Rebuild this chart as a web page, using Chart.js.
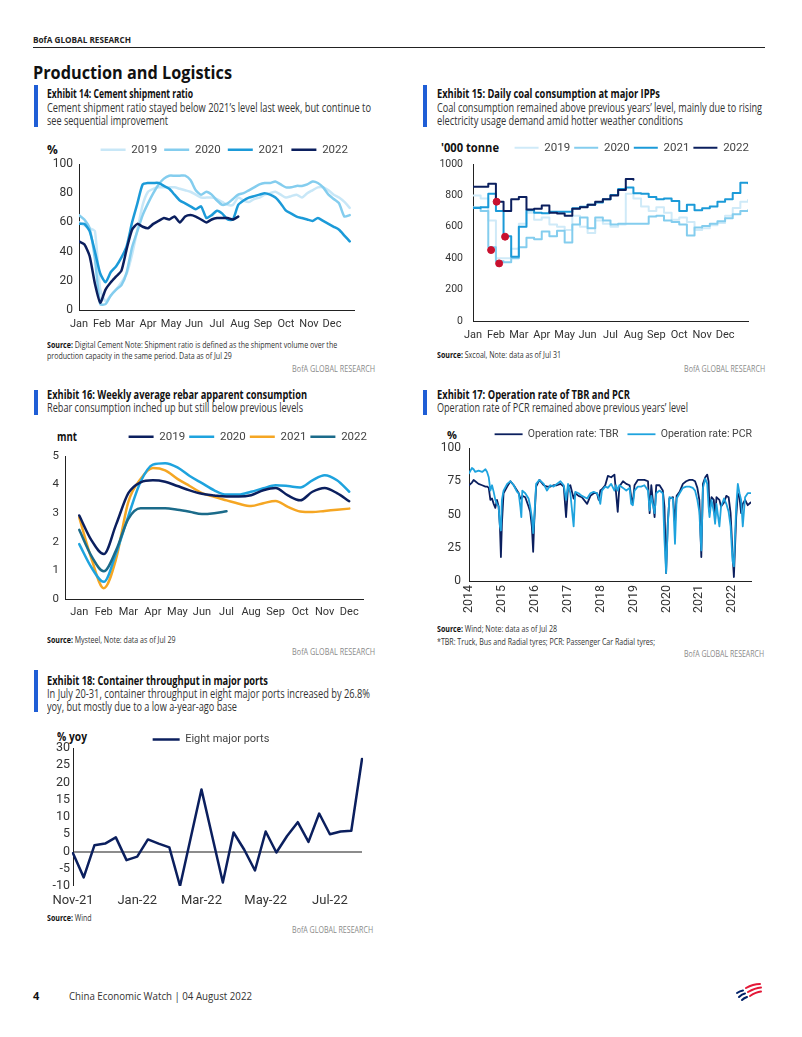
<!DOCTYPE html>
<html><head><meta charset="utf-8">
<script src="https://cdn.jsdelivr.net/npm/chart.js@4.4.1/dist/chart.umd.min.js"></script>
<style>
html,body{margin:0;padding:0;background:#fff}
body{width:802px;height:1037px;position:relative;overflow:hidden;font-family:"Open Sans","Noto Sans",sans-serif;color:#333}
.a{position:absolute;white-space:nowrap;line-height:14px}
.bar{position:absolute;width:4px;background:#1f5ed6}
.ti{font-weight:bold;font-size:12px;color:#111}
.su{font-size:12px;color:#333}
.so{font-size:9px;color:#333}
.so b{color:#111}
.br{font-size:9px;color:#8a8a8a}
.un{font-weight:bold;font-size:12px;color:#111}
.cv{position:absolute}
</style></head><body>

<div class="a" data-w="98" style="left:33px;top:33px;font-weight:bold;font-size:8px;color:#222">BofA GLOBAL RESEARCH</div>
<div style="position:absolute;left:33px;top:47px;width:732px;height:1px;background:#222"></div>
<div class="a" data-w="199" style="left:33px;top:62px;line-height:22px;font-weight:bold;font-size:17px;color:#111">Production and Logistics</div>

<!-- Exhibit 14 -->
<div class="bar" style="left:34px;top:85px;height:42px"></div>
<div class="a ti" data-w="146" style="left:47px;top:87px">Exhibit 14: Cement shipment ratio</div>
<div class="a su" data-w="324" style="left:47px;top:101px">Cement shipment ratio stayed below 2021’s level last week, but continue to</div>
<div class="a su" data-w="121" style="left:47px;top:114px">see sequential improvement</div>
<div class="a un" style="left:47px;top:143px">%</div>
<div class="cv" style="left:39px;top:137px;width:316px;height:197px"><canvas id="c14"></canvas></div>
<div class="a so" style="left:47px;top:338px"><b>Source:</b> Digital Cement Note: Shipment ratio is defined as the shipment volume over the</div>
<div class="a so" style="left:47px;top:349px">production capacity in the same period. Data as of Jul 29</div>
<div class="a br" data-w="83" data-r="1" style="right:427px;top:362px">BofA GLOBAL RESEARCH</div>

<!-- Exhibit 15 -->
<div class="bar" style="left:423px;top:85px;height:42px"></div>
<div class="a ti" data-w="223" style="left:437px;top:87px">Exhibit 15: Daily coal consumption at major IPPs</div>
<div class="a su" data-w="325" style="left:437px;top:101px">Coal consumption remained above previous years’ level, mainly due to rising</div>
<div class="a su" data-w="246" style="left:437px;top:114px">electricity usage demand amid hotter weather conditions</div>
<div class="a un" data-w="58" style="left:441px;top:141px">'000 tonne</div>
<div class="cv" style="left:433px;top:138px;width:320px;height:207px"><canvas id="c15"></canvas></div>
<div class="a so" style="left:437px;top:348px"><b>Source:</b> Sxcoal, Note: data as of Jul 31</div>
<div class="a br" data-w="81" data-r="1" style="right:37px;top:362px">BofA GLOBAL RESEARCH</div>

<!-- Exhibit 16 -->
<div class="bar" style="left:34px;top:390px;height:25px"></div>
<div class="a ti" data-w="260" style="left:47px;top:388px">Exhibit 16: Weekly average rebar apparent consumption</div>
<div class="a su" data-w="256" style="left:47px;top:401px">Rebar consumption inched up but still below previous levels</div>
<div class="a un" data-w="20" style="left:57px;top:430px">mnt</div>
<div class="cv" style="left:40px;top:427px;width:331px;height:196px"><canvas id="c16"></canvas></div>
<div class="a so" style="left:47px;top:633px"><b>Source:</b> Mysteel, Note: data as of Jul 29</div>
<div class="a br" data-w="83" data-r="1" style="right:427px;top:645px">BofA GLOBAL RESEARCH</div>

<!-- Exhibit 17 -->
<div class="bar" style="left:423px;top:390px;height:25px"></div>
<div class="a ti" data-w="193" style="left:437px;top:388px">Exhibit 17: Operation rate of TBR and PCR</div>
<div class="a su" data-w="251" style="left:437px;top:401px">Operation rate of PCR remained above previous years’ level</div>
<div class="a un" style="left:447px;top:428px;font-size:11px">%</div>
<div class="cv" style="left:433px;top:420px;width:328px;height:194px"><canvas id="c17"></canvas></div>
<div class="a so" style="left:437px;top:622px"><b>Source:</b> Wind; Note: data as of Jul 28</div>
<div class="a so" id="fn" style="left:437px;top:635px">*TBR: Truck, Bus and Radial tyres; PCR: Passenger Car Radial tyres;</div>
<div class="a br" data-w="80" data-r="1" style="right:38px;top:647px">BofA GLOBAL RESEARCH</div>

<!-- Exhibit 18 -->
<div class="bar" style="left:34px;top:670px;height:42px"></div>
<div class="a ti" data-w="221" style="left:47px;top:674px">Exhibit 18: Container throughput in major ports</div>
<div class="a su" data-w="323" style="left:47px;top:687px">In July 20-31, container throughput in eight major ports increased by 26.8%</div>
<div class="a su" data-w="190" style="left:47px;top:700px">yoy, but mostly due to a low a-year-ago base</div>
<div class="a un" data-w="30" style="left:57px;top:730px">% yoy</div>
<div class="cv" style="left:45px;top:728px;width:332px;height:182px"><canvas id="c18"></canvas></div>
<div class="a so" style="left:47px;top:911px"><b>Source:</b> Wind</div>
<div class="a br" data-w="81" data-r="1" style="right:429px;top:923px">BofA GLOBAL RESEARCH</div>

<!-- Footer -->
<div class="a" style="left:33px;top:989px;font-weight:bold;font-size:11px;color:#111">4</div>
<div class="a" data-w="183" style="left:69px;top:989px;font-size:11px;color:#333">China Economic Watch | 04 August 2022</div>
<svg style="position:absolute;left:734px;top:982px" width="30" height="20" viewBox="0 0 30 20">
<g stroke="#e31837" stroke-width="2" stroke-linecap="round" fill="none">
<path d="M12 6 Q19 2 26 2"/><path d="M14 10 Q21 6 27 5.5"/><path d="M16 14 Q22 10 27 9.5"/>
</g>
<g stroke="#012169" stroke-width="2" stroke-linecap="round" fill="none">
<path d="M3 11 Q6 9 9 8.5"/><path d="M5 15 Q8 12 11 11.5"/><path d="M8 18 Q10 16 13 15"/>
</g>
</svg>

<script>
// fit page text widths to the reference; source notes share one condensing factor
const soK = 218 / document.getElementById('fn').getBoundingClientRect().width;
document.querySelectorAll('.so').forEach(el => { el.dataset.w = el.getBoundingClientRect().width * soK; });
document.querySelectorAll('[data-w]').forEach(el=>{
  const w = el.getBoundingClientRect().width, t = +el.dataset.w;
  el.style.transformOrigin = el.dataset.r ? '100% 50%' : '0 50%';
  el.style.transform = 'scaleX(' + (t/w) + ')';
});

// ---------------- DATA ----------------
const MONTHS = ['Jan','Feb','Mar','Apr','May','Jun','Jul','Aug','Sep','Oct','Nov','Dec'];

// Exhibit 14: cement shipment ratio (%), weekly from start of year
const cement2019 = [60,58,56,54,14,6,10,14,19,25,38,55,72,81,83,84,84,84,84,83,82,81,79,77,
  77,77,76,74,72,72,77,75,74,76,77,79,80,81,79,77,78,79,77,80,82,84,84,82,79,77,74,70];
const cement2020 = [65,62,56,35,4,4,10,14,17,26,43,54,65,73,80,86,90,92,92,92,92,89,82,79,81,79,75,72,73,76,
  79,80,82,84,86,87,87,88,86,84,84,85,85,86,88,87,84,79,76,73,64,65];
const cement2021 = [59,59,54,40,25,19,26,30,36,44,60,73,86,87,87,87,85,83,79,75,73,71,69,71,63,65,68,66,62,62,
  72,75,77,78,79,80,79,77,73,68,66,64,63,62,61,63,61,59,57,55,51,47];
const cement2022 = [47,45,37,18,5,14,19,23,27,42,55,59,57,56,59,61,63,62,64,60,64,65,64,62,60,62,63,63,63,62,64];

// Exhibit 15: daily coal consumption ('000 tonne), sampled every third of a month
const coal2019 = [800,780,640,400,400,460,620,690,645,660,615,600,580,670,600,560,640,620,600,615,810,780,730,700,725,690,645,660,630,580,590,610,625,670,720,760,770];
const coal2020 = [725,700,470,380,375,400,470,530,520,570,540,575,500,615,660,590,660,640,615,620,620,620,620,665,670,640,630,615,545,595,605,620,635,655,680,700,705];
const coal2021 = [720,725,810,700,540,410,600,705,690,686,696,696,696,718,728,740,755,775,803,840,850,813,810,790,775,781,765,700,740,705,718,730,760,775,815,880,877];
const coal2022 = [855,855,875,760,700,775,790,710,715,735,690,685,670,715,725,740,760,775,800,835,905,900];
// Lunar New Year markers (month position, value)
const cnyMonth = [1.14, 0.79, 1.40, 1.03];
const cnyValue = [367, 452, 537, 760];

// Exhibit 16: rebar apparent consumption (mnt), half-month steps
const rebar2019 = [2.92,2.05,1.57,2.6,3.7,4.08,4.15,4.1,3.95,3.8,3.68,3.62,3.58,3.58,3.63,3.8,3.88,3.62,3.45,3.75,3.88,3.7,3.42];
const rebar2020 = [1.92,1.1,0.6,1.6,2.9,4.1,4.7,4.75,4.6,4.3,4.05,3.8,3.65,3.65,3.75,3.87,3.98,3.95,3.9,4.15,4.33,4.15,3.75];
const rebar2021 = [2.85,1.4,0.38,1.4,3.4,4.2,4.58,4.5,4.2,3.95,3.7,3.57,3.45,3.33,3.25,3.35,3.43,3.22,3.06,3.04,3.08,3.12,3.16];
const rebar2022 = [2.42,1.5,0.97,1.7,2.8,3.17,3.17,3.17,3.12,3.05,2.97,3.0,3.07];

// Exhibit 17: operation rate (%), dates as decimal years
const opDates = [2014.00,2014.09,2014.14,2014.19,2014.29,2014.40,2014.50,2014.55,2014.60,2014.65,2014.70,2014.75,2014.80,2014.85,2014.90,2014.94,2014.97,2015.00,2015.05,2015.16,
  2015.26,2015.36,2015.46,2015.51,2015.56,2015.59,2015.62,2015.71,2015.81,2015.86,2015.91,2015.95,2015.98,2016.04,2016.14,2016.27,2016.37,2016.47,2016.57,2016.67,
  2016.78,2016.88,2016.95,2017.01,2017.08,2017.18,2017.23,2017.33,2017.43,2017.59,2017.69,2017.79,2017.89,2017.94,2017.99,2018.04,2018.14,2018.22,2018.32,2018.42,
  2018.47,2018.52,2018.57,2018.68,2018.78,2018.88,2018.93,2018.98,2019.03,2019.13,2019.23,2019.33,2019.44,2019.49,2019.54,2019.64,2019.69,2019.79,2019.89,2019.94,
  2019.99,2020.04,2020.09,2020.20,2020.26,2020.31,2020.40,2020.50,2020.60,2020.70,2020.80,2020.87,2020.94,2021.00,2021.06,2021.11,2021.18,2021.24,2021.28,2021.31,
  2021.37,2021.44,2021.48,2021.52,2021.61,2021.66,2021.75,2021.82,2021.89,2021.95,2022.01,2022.05,2022.12,2022.17,2022.22,2022.27,2022.32,2022.39,2022.47,2022.56];
const tbrRate = [72,74,76,75,73,72,71,71,70,61,62,58,55,61,56,41,18,43,66,71,
  75,72,68,66,62,62,64,63,56,52,41,22,43,71,76,72,71,71,72,72,
  73,71,48,71,72,62,66,64,63,58,64,66,66,61,68,69,72,79,78,80,
  66,52,71,75,73,72,63,59,72,76,76,76,75,51,72,48,72,72,68,56,
  6,43,62,63,43,64,67,73,75,76,76,75,70,61,18,73,78,80,75,52,
  63,61,46,63,61,56,59,64,63,51,20,3,48,66,63,51,58,61,57,59];
const pcrRate = [81,85,84,82,83,82,84,82,78,68,72,67,61,58,56,41,38,61,68,73,
  75,72,67,66,56,48,68,66,62,56,48,36,46,73,76,73,68,72,71,73,
  75,72,61,73,66,41,67,66,64,62,66,67,66,63,58,68,71,70,73,68,
  72,68,72,70,68,70,58,57,68,71,71,72,68,53,64,51,66,68,66,31,
  6,41,63,62,28,62,66,70,71,71,70,68,61,52,23,70,77,73,56,48,
  61,52,43,58,41,56,62,58,52,41,15,11,56,73,66,61,41,63,66,66];
const opYears = [2014,2015,2016,2017,2018,2019,2020,2021,2022];

// Exhibit 18: container throughput, eight major ports (% yoy), 10-day periods
const portTicks = ['Nov-21','','','','','','Jan-22','','','','','','Mar-22','','','','','','May-22','','','','','','Jul-22','','',''];
const portYoy = [-0.5,-7.5,1.8,2.3,4.1,-2.5,-1.5,3.5,2.3,1.2,-10,4,18,4.5,-9,5.5,0.5,-5.5,5.8,-0.3,4.5,8.5,2.8,11,5,5.8,6,26.8];

// ---------------- HELPERS ----------------
const CF = 'Roboto,"Liberation Sans",Arial,sans-serif';
Chart.defaults.animation = false;
Chart.defaults.font.family = CF;
Chart.defaults.color = '#333';
Chart.defaults.plugins.tooltip.enabled = false;

const NAVY = '#0b1f5e';
function fixLegend(h){ return {id:'fixLegend', beforeLayout(chart){ const lg = chart.legend; if(lg && !lg.__fx){ const f = lg.fit; lg.fit = function(){ f.call(this); this.height = h; }; lg.__fx = true; } } }; }
function legendOpts(p, fs, lw, align){ return { display:true, position:'top', align: align||'end',
  labels:{ usePointStyle:true, pointStyle:'line', pointStyleWidth:lw, padding:p, color:'#444', font:{size:fs, family:CF},
    sort:(a,b)=>a.datasetIndex-b.datasetIndex, filter: it => !String(it.text).startsWith('_') } }; }
function yAxis(min,max,step,w,pad,fs){ return { type:'linear', position:'left', min, max, afterFit:s=>{s.width=w;},
  grid:{display:false, drawTicks:false}, border:{display:true,color:'#222',width:1},
  ticks:{stepSize:step, padding:pad, color:'#333', autoSkip:false, callback:v=>String(v), font:{size:fs, family:CF}} }; }
function xMonths(min,max,h,pad,fs){ return { type:'linear', min, max, afterFit:s=>{s.height=h;},
  afterBuildTicks:s=>{ s.ticks = MONTHS.map((m,i)=>({value:i})); },
  grid:{display:false, drawTicks:false}, border:{display:true,color:'#222',width:1},
  ticks:{autoSkip:false, maxRotation:0, padding:pad, color:'#333', callback:v=>MONTHS[v], font:{size:fs, family:CF}} }; }
function padAxis(w){ return { type:'linear', position:'right', display:true, afterFit:s=>{s.width=w;},
  grid:{display:false, drawTicks:false}, border:{display:false}, ticks:{display:false} }; }
const pts = (vals, step) => vals.map((v,i)=>({x:i*step, y:v}));
const line = (label, data, color, width, order, extra) => Object.assign({label, data, borderColor:color, backgroundColor:color, borderWidth:width, order, pointRadius:0}, extra||{});
const base = (legend, scales) => ({ responsive:true, maintainAspectRatio:false, devicePixelRatio:1, layout:{padding:0},
  elements:{point:{radius:0}, line:{borderJoinStyle:'round', borderCapStyle:'round'}}, plugins:{legend}, scales });

// ---------------- Exhibit 14 ----------------
new Chart(document.getElementById('c14'), { type:'line',
  data:{ datasets:[
    line('2019', pts(cement2019,12/52), '#c8e7f7', 2.5, 4, {tension:0.2}),
    line('2020', pts(cement2020,12/52), '#84cdee', 2.5, 3, {tension:0.2}),
    line('2021', pts(cement2021,12/52), '#1b9ad8', 2.5, 2, {tension:0.2}),
    line('2022', pts(cement2022,12/52), NAVY, 2.5, 1, {tension:0.2})
  ]},
  options: base(legendOpts(7,11.5,25), { x:xMonths(0,12,24,8,11), y:yAxis(0,100,20,40,6,12) }),
  plugins:[fixLegend(27)]
});

// ---------------- Exhibit 15 ----------------
new Chart(document.getElementById('c15'), { type:'line',
  data:{ datasets:[
    line('2019', pts(coal2019,1/3), '#cfeaf8', 2, 4, {stepped:true}),
    line('2020', pts(coal2020,1/3), '#84cdee', 2, 3, {stepped:true}),
    line('2021', pts(coal2021,1/3), '#1b9ad8', 2, 2, {stepped:true}),
    line('2022', pts(coal2022,1/3), NAVY, 2, 1, {stepped:true}),
    { label:'_cny', data: cnyMonth.map((m,i)=>({x:m, y:cnyValue[i]})), showLine:false, order:0,
      pointRadius:3.5, pointBackgroundColor:'#c8102e', pointBorderColor:'#c8102e', borderColor:'#c8102e', backgroundColor:'#c8102e' }
  ]},
  options: base(legendOpts(4,11.5,24), { x:xMonths(0,12,24,8,11), y:yAxis(0,1000,200,40,10,10.5) }),
  plugins:[fixLegend(26)]
});

// ---------------- Exhibit 16 ----------------
new Chart(document.getElementById('c16'), { type:'line',
  data:{ datasets:[
    line('2019', pts(rebar2019,0.5), NAVY, 2.5, 1, {cubicInterpolationMode:'monotone'}),
    line('2020', pts(rebar2020,0.5), '#1ea3de', 2.5, 2, {cubicInterpolationMode:'monotone'}),
    line('2021', pts(rebar2021,0.5), '#f5a623', 2.5, 3, {cubicInterpolationMode:'monotone'}),
    line('2022', pts(rebar2022,0.5), '#1b6b8a', 2.5, 0, {cubicInterpolationMode:'monotone'})
  ]},
  options: base(legendOpts(4,11.5,25), { x:xMonths(-0.58,11.56,24,7,11), y:yAxis(0,5,1,25,6,11.5), r:padAxis(8) }),
  plugins:[fixLegend(29)]
});

// ---------------- Exhibit 17 ----------------
new Chart(document.getElementById('c17'), { type:'line',
  data:{ datasets:[
    line('Operation rate: TBR', opDates.map((d,i)=>({x:d,y:tbrRate[i]})), NAVY, 1.8, 1),
    line('Operation rate: PCR', opDates.map((d,i)=>({x:d,y:pcrRate[i]})), '#1ea3de', 1.8, 0)
  ]},
  options: base(legendOpts(9,10.5,28), {
    x:{ type:'linear', min:2014, max:2022.57, afterFit:s=>{s.height=33;},
        afterBuildTicks:s=>{ s.ticks = opYears.map(v=>({value:v})); },
        grid:{display:false, drawTicks:false}, border:{display:true,color:'#222',width:1},
        ticks:{autoSkip:false, minRotation:90, maxRotation:90, padding:4, color:'#333', callback:v=>String(v), font:{size:12.5, family:CF}} },
    y: yAxis(0,100,25,36,8,12), r: padAxis(10) }),
  plugins:[fixLegend(28)]
});

// ---------------- Exhibit 18 ----------------
new Chart(document.getElementById('c18'), { type:'line',
  data:{ labels: portTicks, datasets:[ line('Eight major ports', portYoy, NAVY, 2.5, 0) ]},
  options: base(legendOpts(6,11,27,'center'), {
    x:{ type:'category', offset:false, afterFit:s=>{s.height=24;},
        grid:{display:false, drawTicks:false}, border:{display:false},
        ticks:{autoSkip:false, maxRotation:0, padding:7, color:'#333', font:{size:13, family:CF}} },
    y:{ type:'linear', position:'left', min:-10, max:30, afterFit:s=>{s.width=28;},
        grid:{drawTicks:false, color:c=> (c.tick && c.tick.value===0) ? '#8c8c8c' : 'rgba(0,0,0,0)', lineWidth:c=> (c.tick && c.tick.value===0) ? 2 : 0},
        border:{display:true,color:'#222',width:1},
        ticks:{stepSize:5, padding:3, color:'#333', autoSkip:false, font:{size:12.5, family:CF}} },
    r: padAxis(15) }),
  plugins:[fixLegend(20)]
});
</script>
</body></html>
